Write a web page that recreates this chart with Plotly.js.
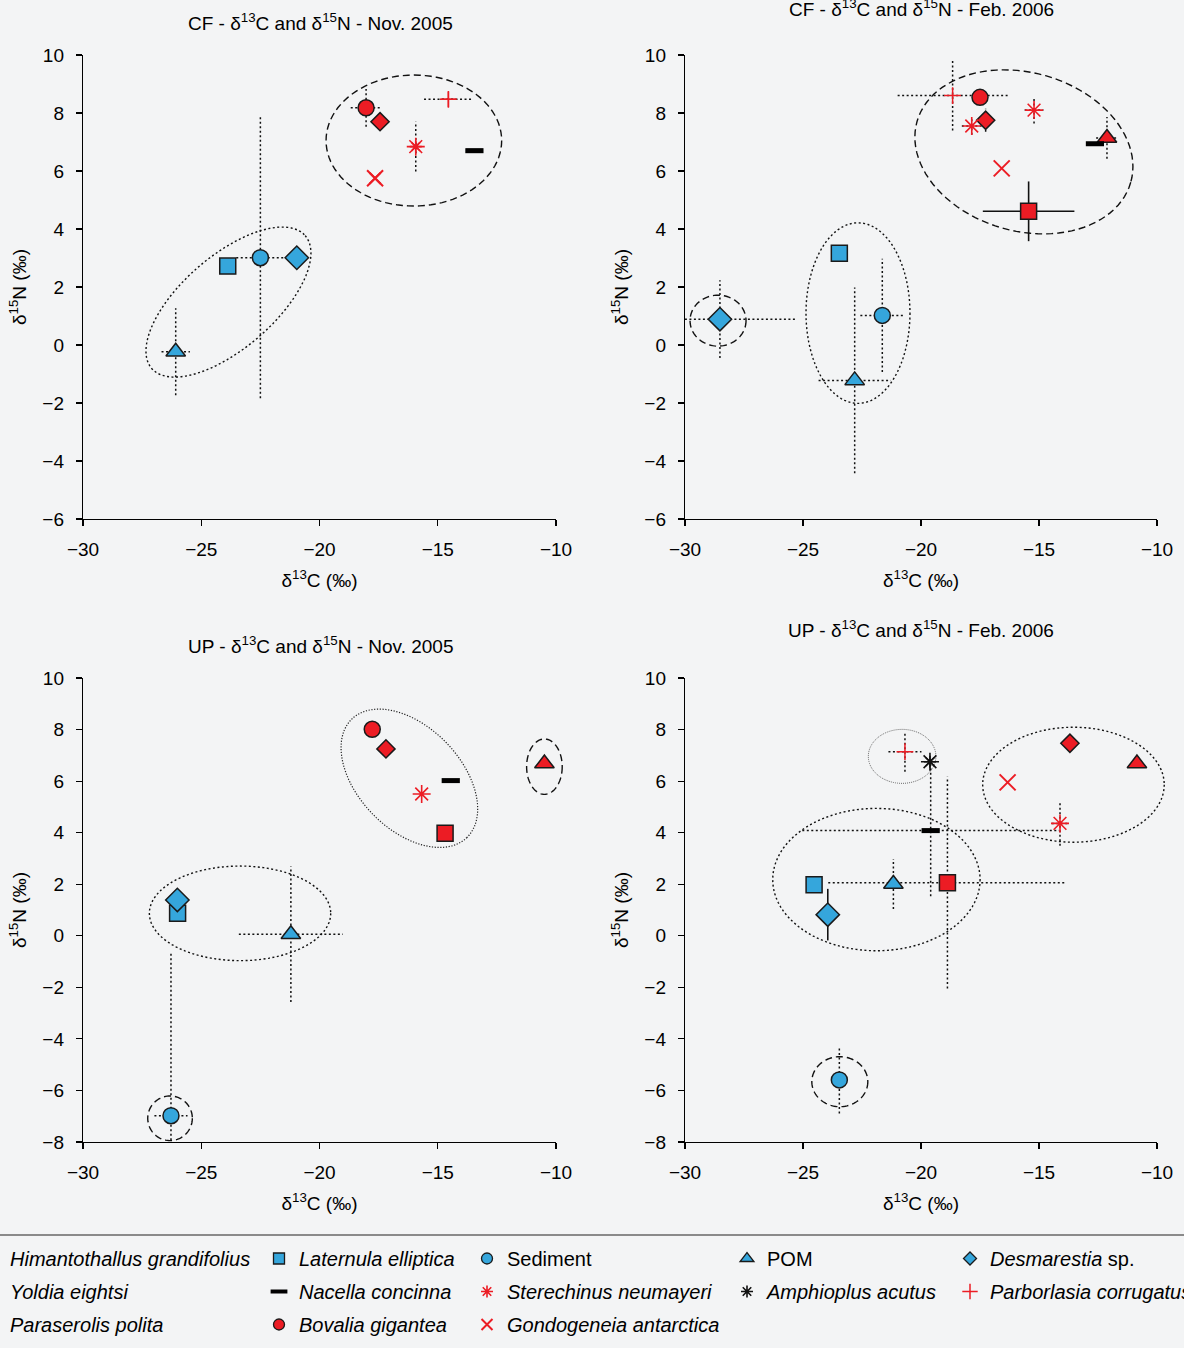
<!DOCTYPE html>
<html><head><meta charset="utf-8">
<script src="https://cdn.plot.ly/plotly-3.0.1.min.js"></script>
<style>html,body{margin:0;padding:0;background:#f3f4f5;}#chart{width:1184px;height:1348px;}</style>
</head><body><div id="chart"></div>
<script>
// ---------------- DATA ----------------
const speciesNames = ['Himantothallus grandifolius','Yoldia eightsi','Paraserolis polita',
  'Laternula elliptica','Nacella concinna','Bovalia gigantea',
  'Sediment','Sterechinus neumayeri','Gondogeneia antarctica',
  'POM','Amphioplus acutus',
  'Desmarestia sp.','Parborlasia corrugatus'];
const legendLabels = ['<i>Himantothallus grandifolius</i>','<i>Yoldia eightsi</i>','<i>Paraserolis polita</i>',
  '<i>Laternula elliptica</i>','<i>Nacella concinna</i>','<i>Bovalia gigantea</i>',
  'Sediment','<i>Sterechinus neumayeri</i>','<i>Gondogeneia antarctica</i>',
  'POM','<i>Amphioplus acutus</i>',
  '<i>Desmarestia</i> sp.','<i>Parborlasia corrugatus</i>'];

const panelTitles = ['CF - δ<sup>13</sup>C and δ<sup>15</sup>N - Nov. 2005','CF - δ<sup>13</sup>C and δ<sup>15</sup>N - Feb. 2006',
  'UP - δ<sup>13</sup>C and δ<sup>15</sup>N - Nov. 2005','UP - δ<sup>13</sup>C and δ<sup>15</sup>N - Feb. 2006'];
const xTickVals = [-30,-25,-20,-15,-10];
const yTickValsTop = [-6,-4,-2,0,2,4,6,8,10];
const yTickValsBottom = [-8,-6,-4,-2,0,2,4,6,8,10];

// CF - Nov. 2005
const cfNovSpecies = ['Laternula elliptica','Sediment','Desmarestia sp.','POM','Bovalia gigantea','Yoldia eightsi','Parborlasia corrugatus','Sterechinus neumayeri','Nacella concinna','Gondogeneia antarctica'];
const cfNovC   = [-23.88,-22.50,-20.96,-26.08,-18.03,-17.44,-14.55,-15.93,-13.45,-17.65];
const cfNovN   = [2.72,3.01,3.01,-0.23,8.18,7.70,8.47,6.84,6.70,5.75];
const cfNovSdC = [0,1.02,0,0.60,0.65,0,1.03,0,0,0];
const cfNovSdN = [0,4.85,0,1.50,0.65,0,0,0.86,0,0];

// CF - Feb. 2006
const cfFebSpecies = ['Desmarestia sp.','Laternula elliptica','Sediment','POM','Parborlasia corrugatus','Bovalia gigantea','Yoldia eightsi','Sterechinus neumayeri','Sterechinus neumayeri','Gondogeneia antarctica','Himantothallus grandifolius','Paraserolis polita','Nacella concinna'];
const cfFebC   = [-28.52,-23.46,-21.64,-22.81,-18.66,-17.50,-17.26,-17.85,-15.21,-16.58,-15.44,-12.12,-12.63];
const cfFebN   = [0.89,3.16,1.02,-1.22,8.60,8.54,7.75,7.55,8.10,6.09,4.61,7.14,6.94];
const cfFebSdC = [3.20,0,0.93,1.53,2.33,0,0.35,0.42,0.40,0,1.94,0.46,0];
const cfFebSdN = [1.34,0,1.95,3.20,1.20,0,0.40,0.30,0.46,0,1.03,0.72,0];

// UP - Nov. 2005
const upNovSpecies = ['Bovalia gigantea','Yoldia eightsi','Nacella concinna','Sterechinus neumayeri','Himantothallus grandifolius','Paraserolis polita','Laternula elliptica','Desmarestia sp.','POM','Sediment'];
const upNovC   = [-17.77,-17.19,-14.45,-15.68,-14.69,-10.49,-26.00,-26.01,-21.21,-26.28];
const upNovN   = [8.01,7.25,6.02,5.50,3.98,6.68,0.87,1.39,0.06,-6.98];
const upNovSdC = [0,0,0,0,0,0,0,0,2.20,0.70];
const upNovSdN = [0,0,0,0,0,0,0,0,2.63,6.36];

// UP - Feb. 2006
const upFebSpecies = ['Parborlasia corrugatus','Amphioplus acutus','Nacella concinna','Himantothallus grandifolius','POM','Laternula elliptica','Desmarestia sp.','Sediment','Yoldia eightsi','Paraserolis polita','Gondogeneia antarctica','Sterechinus neumayeri'];
const upFebC   = [-20.68,-19.62,-19.59,-18.88,-21.17,-24.53,-23.95,-23.46,-13.69,-10.85,-16.33,-14.11];
const upFebN   = [7.14,6.75,4.08,2.06,2.01,1.98,0.82,-5.59,7.47,6.68,5.95,4.36];
const upFebSdC = [0.70,0,5.44,5.05,0,0,0,0,0,0,0,0.35];
const upFebSdN = [0.78,0,2.55,4.11,0.97,0,1.00,1.30,0,0,0,0.87];

// grouping ellipses: centre in data units, semi-axes in px, rotation in degrees
const ellPanel = [0,0,1,1,1,2,2,2,2,3,3,3,3];
const ellCx    = [-16.01,-23.85,-28.60,-22.67,-15.64,-10.49,-16.20,-23.36,-26.32,-20.80,-13.54,-21.89,-23.44];
const ellCy    = [7.05,1.48,0.84,1.10,6.66,6.56,6.11,0.87,-7.08,6.96,5.86,2.18,-5.66];
const ellA     = [87.8,101.5,28,52,111.1,17.8,82.6,90.7,22.3,33.8,90.8,103.7,28];
const ellB     = [65.5,46.2,25.5,90.3,79.2,27.7,51.3,47.3,22.3,27,57.5,71.2,25];
const ellRot   = [0,-40.85,0,0,15.9,0,45.8,0,0,0,0,0,0];
const ellKind  = ['dash','dot','dash','dot','dash','dash','fine','dot','dash','gray','dot','dot','dash'];

// ---------------- STYLE ----------------
const W = 1184, H = 1348;
const RED = '#ec1c24', BLUE = '#35a6dc', OUT = '#1a1a1a';
const FONT = 'Liberation Sans, Arial, Helvetica, sans-serif';
const markerStyle = {
  'Himantothallus grandifolius': {symbol:'square', color:RED, size:16, line:{color:OUT,width:1.5}},
  'Yoldia eightsi': {symbol:'diamond', color:RED, size:14, line:{color:OUT,width:1.5}},
  'Paraserolis polita': {symbol:'triangle-up', color:RED, size:17, line:{color:OUT,width:1.5}},
  'Laternula elliptica': {symbol:'square', color:BLUE, size:16, line:{color:OUT,width:1.5}},
  'Nacella concinna': {symbol:'line-ew-open', color:'#000', size:13, line:{color:'#000',width:5}},
  'Bovalia gigantea': {symbol:'circle', color:RED, size:16, line:{color:OUT,width:1.5}},
  'Sediment': {symbol:'circle', color:BLUE, size:16, line:{color:OUT,width:1.5}},
  'Sterechinus neumayeri': {symbol:'asterisk-open', color:RED, size:15, line:{color:RED,width:1.6}},
  'Gondogeneia antarctica': {symbol:'x-thin-open', color:RED, size:16, line:{color:RED,width:2}},
  'POM': {symbol:'triangle-up', color:BLUE, size:17, line:{color:OUT,width:1.5}},
  'Amphioplus acutus': {symbol:'asterisk-open', color:'#111', size:15, line:{color:'#111',width:1.6}},
  'Desmarestia sp.': {symbol:'diamond', color:BLUE, size:18, line:{color:OUT,width:1.5}},
  'Parborlasia corrugatus': {symbol:'cross-thin-open', color:RED, size:12, line:{color:RED,width:1.5}}
};
const legendMarkerSize = {
  'Himantothallus grandifolius':11, 'Yoldia eightsi':10, 'Paraserolis polita':12,
  'Laternula elliptica':11, 'Nacella concinna':12, 'Bovalia gigantea':11,
  'Sediment':11, 'Sterechinus neumayeri':10, 'Gondogeneia antarctica':11,
  'POM':12, 'Amphioplus acutus':10, 'Desmarestia sp.':10, 'Parborlasia corrugatus':11
};
const solidErr = {'1|Himantothallus grandifolius':true, '3|Desmarestia sp.':true};
const ellStyle = {
  dash:{color:'#111', width:1.4, dash:'7px,4px'},
  dot:{color:'#111', width:1.4, dash:'2px,2.5px'},
  fine:{color:'#222', width:1.2, dash:'1.2px,1.6px'},
  gray:{color:'#6d6d6d', width:1, dash:'1px,1px'}
};

// layout geometry (px)
const colPx = [[83,556],[685,1157]];
const rowPx = [[55,519],[678,1142]];
const ranges = [[-6,10],[-8,10]];
const xRange = [-30,-10];
const panelDefs = [
  {col:0,row:0,ax:'',  sp:cfNovSpecies,c:cfNovC,n:cfNovN,sc:cfNovSdC,sn:cfNovSdN},
  {col:1,row:0,ax:'2', sp:cfFebSpecies,c:cfFebC,n:cfFebN,sc:cfFebSdC,sn:cfFebSdN},
  {col:0,row:1,ax:'3', sp:upNovSpecies,c:upNovC,n:upNovN,sc:upNovSdC,sn:upNovSdN},
  {col:1,row:1,ax:'4', sp:upFebSpecies,c:upFebC,n:upFebN,sc:upFebSdC,sn:upFebSdN}
];
const px2x = p => p / W;
const py2y = p => 1 - p / H;

const traces = [];
const layout = {
  width: W, height: H,
  margin: {l:0,r:0,t:0,b:0,autoexpand:false},
  paper_bgcolor: '#f3f4f5', plot_bgcolor: 'rgba(0,0,0,0)',
  font: {family: FONT, size: 19, color: '#000'},
  showlegend: true, shapes: [], annotations: []
};

// legends: 5 columns. Each legend entry is a small copy of the species' first plotted point,
// drawn first so that the full-size marker hides it; only its legend swatch is visible.
const legendCols = [[0,1,2],[3,4,5],[6,7,8],[9,10],[11,12]];
const legendTextPx = [10,299,507,767,990];
legendCols.forEach((col, ci) => {
  const key = ci === 0 ? 'legend' : 'legend' + (ci + 1);
  layout[key] = {x: px2x(legendTextPx[ci] - 40), y: py2y(1239), xanchor:'left', yanchor:'top',
    orientation:'v', bgcolor:'rgba(0,0,0,0)', borderwidth:0, font:{size:20, color:'#000', family:FONT},
    itemsizing:'trace', itemwidth:30, tracegroupgap:4, itemclick:false, itemdoubleclick:false};
  col.forEach((k, r) => {
    const s = speciesNames[k];
    const p = panelDefs.find(q => q.sp.indexOf(s) >= 0);
    const i = p.sp.indexOf(s);
    const m = Object.assign({}, markerStyle[s], {size: legendMarkerSize[s]});
    if (s === 'Nacella concinna') m.line = {color:'#000', width:4};
    else if (m.line && m.line.color === OUT) m.line = {color:OUT, width:1.3};
    traces.push({type:'scatter', mode:'markers', x:[p.c[i]], y:[p.n[i]], xaxis:'x' + p.ax, yaxis:'y' + p.ax,
      hoverinfo:'skip', name: legendLabels[k], legendgroup: s, legend: key, legendrank: r + 1,
      showlegend: true, marker: m});
  });
});

panelDefs.forEach((p, pi) => {
  const yr = ranges[p.row];
  const xd = [px2x(colPx[p.col][0]), px2x(colPx[p.col][1])];
  const yd = [py2y(rowPx[p.row][1]), py2y(rowPx[p.row][0])];
  const common = {showline:true, linecolor:'#000', linewidth:1.2, ticks:'outside', ticklen:6, tickwidth:1.2,
    tickcolor:'#000', showgrid:false, zeroline:false, fixedrange:true, tickfont:{size:19, color:'#000'}};
  layout['xaxis' + p.ax] = Object.assign({}, common, {domain:xd, range:xRange, tickvals:xTickVals,
    anchor:'y' + p.ax, ticklabelstandoff:7,
    title:{text:'δ<sup>13</sup>C (‰)', font:{size:19}, standoff:14}});
  layout['yaxis' + p.ax] = Object.assign({}, common, {domain:yd, range:yr,
    tickvals: p.row === 0 ? yTickValsTop : yTickValsBottom,
    anchor:'x' + p.ax, ticklabelstandoff:8,
    title:{text:'δ<sup>15</sup>N (‰)', font:{size:19}, standoff:10}});

  const xa = 'x' + p.ax, ya = 'y' + p.ax;
  // error lines
  const dotX = [], dotY = [], solX = [], solY = [];
  p.sp.forEach((s, i) => {
    const solid = solidErr[pi + '|' + s];
    const X = solid ? solX : dotX, Y = solid ? solY : dotY;
    if (p.sc[i] > 0) { X.push(p.c[i] - p.sc[i], p.c[i] + p.sc[i], null); Y.push(p.n[i], p.n[i], null); }
    if (p.sn[i] > 0) { X.push(p.c[i], p.c[i], null); Y.push(p.n[i] - p.sn[i], p.n[i] + p.sn[i], null); }
  });
  traces.push({type:'scatter', mode:'lines', x:dotX, y:dotY, xaxis:xa, yaxis:ya, showlegend:false,
    hoverinfo:'skip', line:{color:'#111', width:1.5, dash:'2px,2.5px'}});
  traces.push({type:'scatter', mode:'lines', x:solX, y:solY, xaxis:xa, yaxis:ya, showlegend:false,
    hoverinfo:'skip', line:{color:'#111', width:1.6}});

  // markers, one trace per species
  const seen = [];
  p.sp.forEach(s => { if (seen.indexOf(s) < 0) seen.push(s); });
  seen.forEach(s => {
    const xs = [], ys = [];
    p.sp.forEach((t, i) => { if (t === s) { xs.push(p.c[i]); ys.push(p.n[i]); } });
    const k = speciesNames.indexOf(s);
    traces.push({type:'scatter', mode:'markers', x:xs, y:ys, xaxis:xa, yaxis:ya,
      name: legendLabels[k], legendgroup: s, showlegend:false, marker: markerStyle[s], cliponaxis:false});
  });

  // panel title
  layout.annotations.push({text: panelTitles[pi], xref:'paper', yref:'paper', showarrow:false,
    x: px2x([320,921][p.col]), y: py2y([[22,8],[645,629]][p.row][p.col]), xanchor:'center', yanchor:'middle',
    font:{size:19, color:'#000'}});
});

// ellipses (drawn in axis-domain units so they may overhang the axes like in the source figure)
ellCx.forEach((cx, e) => {
  const p = panelDefs[ellPanel[e]];
  const yr = ranges[p.row];
  const sx = (colPx[p.col][1] - colPx[p.col][0]) / (xRange[1] - xRange[0]);
  const sy = (rowPx[p.row][1] - rowPx[p.row][0]) / (yr[1] - yr[0]);
  const th = ellRot[e] * Math.PI / 180;
  let path = '';
  for (let j = 0; j <= 96; j++) {
    const t = 2 * Math.PI * j / 96;
    const dx = ellA[e] * Math.cos(t) * Math.cos(th) - ellB[e] * Math.sin(t) * Math.sin(th);
    const dy = ellA[e] * Math.cos(t) * Math.sin(th) + ellB[e] * Math.sin(t) * Math.cos(th);
    const X = cx + dx / sx, Y = ellCy[e] - dy / sy;
    const fx = (X - xRange[0]) / (xRange[1] - xRange[0]);
    const fy = (Y - yr[0]) / (yr[1] - yr[0]);
    path += (j === 0 ? 'M' : 'L') + fx.toFixed(5) + ',' + fy.toFixed(5);
  }
  path += 'Z';
  layout.shapes.push({type:'path', xref:'x' + p.ax + ' domain', yref:'y' + p.ax + ' domain', path, layer:'below',
    line: ellStyle[ellKind[e]], fillcolor:'rgba(0,0,0,0)'});
});

// legend separator
layout.shapes.push({type:'line', xref:'paper', yref:'paper', x0:0, x1:1, y0:py2y(1235), y1:py2y(1235),
  line:{color:'#8a8a8a', width:2}});

Plotly.newPlot('chart', traces, layout, {staticPlot:true, displayModeBar:false});
</script></body></html>
